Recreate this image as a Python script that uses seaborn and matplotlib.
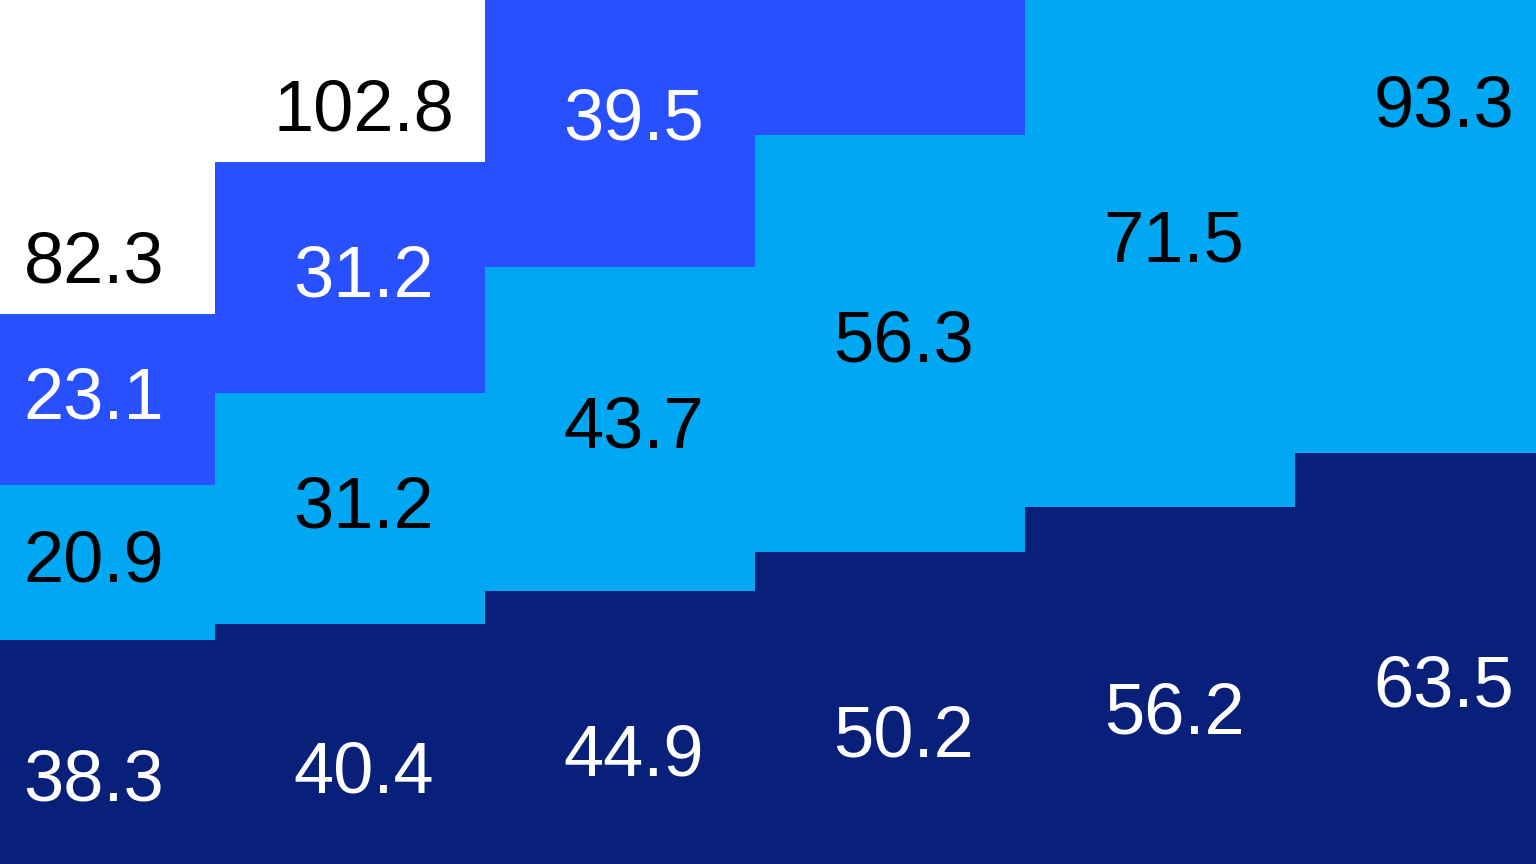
import numpy as np
import pandas as pd

import matplotlib
matplotlib.use("Agg")
import matplotlib.pyplot as plt
import seaborn as sns

sns.set_theme(style="white")
plt.rcParams["font.family"] = ["Liberation Sans", "DejaVu Sans"]

# data, bottom to top
groups = ["G1", "G2", "G3", "G4", "G5", "G6"]
navy_vals = [38.3, 40.4, 44.9, 50.2, 56.2, 63.5]
sky_vals = [20.9, 31.2, 43.7, 56.3, 71.5, 93.3]
blue_vals = [23.1, 31.2, 39.5, 47.5, 55.8, 64.0]  # last three run off the top

colors = {"navy": "#08207a", "sky": "#00a8f3", "blue": "#2850ff"}
text_colors = {"navy": "white", "sky": "black", "blue": "white"}

df = pd.DataFrame({"group": groups, "navy": navy_vals, "sky": sky_vals, "blue": blue_vals})
df["c1"] = df["navy"]
df["c2"] = df["c1"] + df["sky"]
df["c3"] = df["c2"] + df["blue"]

fig = plt.figure(figsize=(15.36, 8.64), dpi=100)
ax = fig.add_axes([0, 0, 1, 1])

# stacked bars drawn back to front
for col, key in [("c3", "blue"), ("c2", "sky"), ("c1", "navy")]:
    sns.barplot(data=df, x="group", y=col, color=colors[key], width=1.0,
                saturation=1, linewidth=0, ax=ax)

ymin, ymax = 8.05, 124.7
ax.set_xlim(-0.2963, 5.3926)
ax.set_ylim(ymin, ymax)
ax.set_axis_off()

dx = 14  # labels sit a little right of bar centre
fs = 52
for i in range(len(df)):
    base = 0.0
    for key in ["navy", "sky", "blue"]:
        v = df.loc[i, key]
        yc = base + v / 2
        base += v
        if yc > ymax:
            continue  # label would sit above the visible area
        ax.annotate(f"{v:.1f}", (i, yc), xytext=(dx, 0),
                    textcoords="offset pixels", ha="center", va="center",
                    fontsize=fs, color=text_colors[key])
    # total above the stack
    tot = df.loc[i, "c3"]
    if tot < ymax - 10:
        ax.annotate(f"{tot:.1f}", (i, tot), xytext=(dx, 32),
                    textcoords="offset pixels", ha="center", va="baseline",
                    fontsize=fs, color="black")

fig.savefig("out.png", dpi=100)
